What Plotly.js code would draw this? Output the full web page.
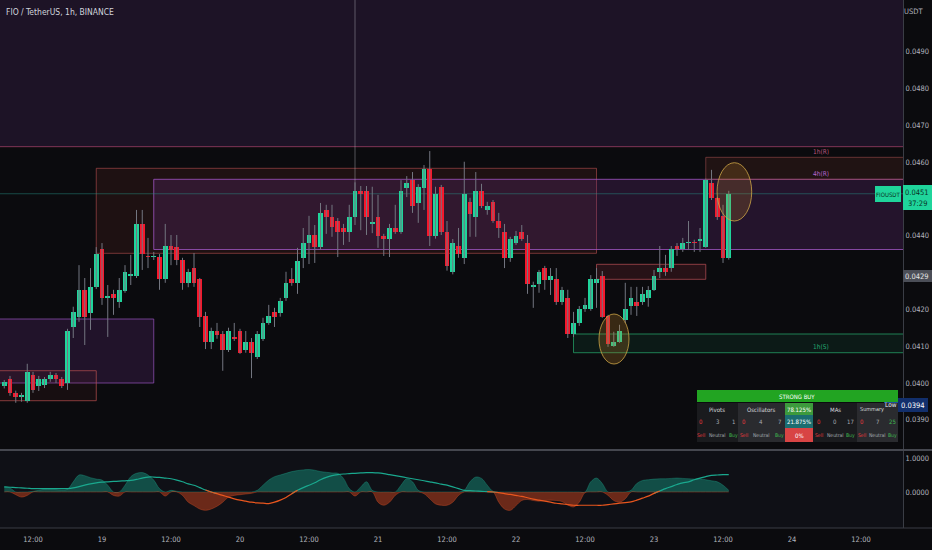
<!DOCTYPE html>
<html><head><meta charset="utf-8">
<script src="https://cdn.plot.ly/plotly-3.0.1.min.js"></script>
<style>html,body{margin:0;padding:0;background:#0b0b0e;}#chart{width:932px;height:550px;}</style>
</head><body><div id="chart"></div>
<script>
// ---------------- data ----------------
const startTime = Date.UTC(2023, 2, 18, 7, 0); // first candle, 1h bars
const opens = [
0.03992,0.04011,0.03973,0.03962,0.03951,0.04022,0.03992,0.03995,0.04011,0.04022,
0.04011,0.04000,0.04152,0.04179,0.04253,0.04190,0.04261,0.04364,0.04231,0.04242,
0.04220,0.04250,0.04291,0.04291,0.04432,0.04345,0.04342,0.04342,0.04282,0.04372,
0.04369,0.04334,0.04272,0.04312,0.04282,0.04182,0.04111,0.04141,0.04133,0.04090,
0.04122,0.04141,0.04090,0.04111,0.04071,0.04120,0.04163,0.04193,0.04190,0.04231,
0.04282,0.04272,0.04340,0.04380,0.04402,0.04370,0.04470,0.04451,0.04440,0.04421,
0.04410,0.04451,0.04522,0.04522,0.04432,0.04451,0.04399,0.04391,0.04421,0.04410,
0.04530,0.04551,0.04489,0.04530,0.04581,0.04399,0.04532,0.04410,0.04301,0.04372,
0.04340,0.04492,0.04450,0.04522,0.04470,0.04492,0.04440,0.04410,0.04340,0.04380,
0.04410,0.04380,0.04261,0.04269,0.04312,0.04280,0.04282,0.04220,0.04231,0.04133,
0.04163,0.04201,0.04201,0.04272,0.04291,0.04182,0.04101,0.04111,0.04171,0.04210,
0.04220,0.04220,0.04231,0.04253,0.04302,0.04313,0.04312,0.04372,0.04364,0.04380,
0.04383,0.04386,0.04370,0.04543,0.04502,0.04453,0.04340];
const highs = [
0.04008,0.04019,0.03979,0.03973,0.04052,0.04030,0.04019,0.04016,0.04030,0.04027,
0.04016,0.04147,0.04207,0.04320,0.04285,0.04312,0.04369,0.04380,0.04266,0.04253,
0.04285,0.04320,0.04348,0.04470,0.04470,0.04394,0.04356,0.04350,0.04432,0.04402,
0.04402,0.04340,0.04310,0.04353,0.04285,0.04193,0.04150,0.04163,0.04141,0.04150,
0.04163,0.04147,0.04141,0.04122,0.04141,0.04177,0.04212,0.04204,0.04231,0.04302,
0.04312,0.04367,0.04421,0.04454,0.04429,0.04489,0.04484,0.04484,0.04448,0.04432,
0.04484,0.04545,0.04535,0.04535,0.04533,0.04511,0.04405,0.04432,0.04484,0.04551,
0.04562,0.04573,0.04540,0.04592,0.04630,0.04533,0.04538,0.04440,0.04391,0.04421,
0.04601,0.04503,0.04573,0.04541,0.04492,0.04497,0.04462,0.04432,0.04397,0.04413,
0.04429,0.04402,0.04275,0.04307,0.04318,0.04312,0.04312,0.04261,0.04253,0.04193,
0.04209,0.04231,0.04293,0.04312,0.04304,0.04185,0.04139,0.04158,0.04272,0.04261,
0.04261,0.04261,0.04263,0.04307,0.04372,0.04348,0.04372,0.04380,0.04394,0.04440,
0.04389,0.04421,0.04555,0.04579,0.04505,0.04484,0.04522];
const lows = [
0.03985,0.03965,0.03946,0.03949,0.03946,0.03973,0.03978,0.03986,0.04003,0.04000,
0.03986,0.03981,0.04122,0.04166,0.04103,0.04144,0.04255,0.04212,0.04125,0.04185,
0.04204,0.04245,0.04266,0.04285,0.04307,0.04312,0.04334,0.04253,0.04272,0.04320,
0.04320,0.04253,0.04260,0.04261,0.04152,0.04092,0.04092,0.04120,0.04033,0.04084,
0.04114,0.04079,0.04082,0.04013,0.04065,0.04114,0.04158,0.04152,0.04180,0.04223,
0.04264,0.04242,0.04312,0.04323,0.04326,0.04362,0.04405,0.04397,0.04342,0.04375,
0.04383,0.04429,0.04415,0.04402,0.04407,0.04367,0.04345,0.04342,0.04405,0.04405,
0.04505,0.04462,0.04435,0.04470,0.04372,0.04392,0.04402,0.04305,0.04295,0.04340,
0.04323,0.04397,0.04397,0.04475,0.04457,0.04435,0.04394,0.04312,0.04329,0.04375,
0.04386,0.04242,0.04204,0.04245,0.04253,0.04239,0.04212,0.04212,0.04122,0.04125,
0.04155,0.04193,0.04196,0.04204,0.04177,0.04098,0.04098,0.04109,0.04163,0.04185,
0.04182,0.04212,0.04207,0.04250,0.04285,0.04291,0.04302,0.04345,0.04356,0.04361,
0.04356,0.04356,0.04367,0.04497,0.04443,0.04326,0.04335];
const closes = [
0.04003,0.03973,0.03962,0.03964,0.04030,0.03981,0.04011,0.04011,0.04022,0.04011,
0.03992,0.04141,0.04193,0.04253,0.04179,0.04261,0.04350,0.04231,0.04234,0.04231,
0.04253,0.04302,0.04293,0.04432,0.04350,0.04342,0.04345,0.04282,0.04372,0.04361,
0.04334,0.04272,0.04302,0.04272,0.04179,0.04111,0.04141,0.04130,0.04090,0.04141,
0.04120,0.04082,0.04111,0.04082,0.04133,0.04163,0.04182,0.04180,0.04223,0.04272,
0.04272,0.04331,0.04380,0.04402,0.04370,0.04462,0.04451,0.04424,0.04410,0.04410,
0.04451,0.04522,0.04514,0.04451,0.04435,0.04399,0.04391,0.04421,0.04410,0.04522,
0.04543,0.04481,0.04533,0.04581,0.04399,0.04514,0.04410,0.04318,0.04380,0.04350,
0.04514,0.04459,0.04522,0.04481,0.04481,0.04440,0.04421,0.04340,0.04391,0.04399,
0.04391,0.04269,0.04263,0.04302,0.04280,0.04291,0.04220,0.04253,0.04133,0.04163,
0.04201,0.04212,0.04282,0.04282,0.04179,0.04106,0.04111,0.04141,0.04201,0.04231,
0.04210,0.04242,0.04253,0.04291,0.04313,0.04302,0.04364,0.04364,0.04380,0.04383,
0.04380,0.04389,0.04551,0.04502,0.04451,0.04340,0.04514];
const wave = [
0.15,0.12,-0.08,-0.15,-0.1,0.02,0.05,0.08,0.08,0.07,
0.06,0.08,0.3,0.5,0.48,0.42,0.38,0.35,0.2,-0.1,
-0.12,0.2,0.45,0.55,0.57,0.5,0.35,0.1,-0.12,0.05,
0.02,-0.1,-0.3,-0.4,-0.5,-0.54,-0.5,-0.42,-0.3,-0.15,
-0.1,-0.08,-0.06,-0.04,0.05,0.2,0.35,0.45,0.5,0.55,
0.6,0.63,0.65,0.66,0.64,0.6,0.58,0.56,0.55,0.4,
0.1,-0.12,0.15,0.3,0.05,-0.3,-0.39,-0.3,-0.1,0.2,
0.39,0.3,0.05,-0.05,-0.2,-0.35,-0.39,-0.39,-0.3,-0.1,
0.05,0.3,0.44,0.4,0.2,0.02,-0.3,-0.5,-0.54,-0.4,
-0.25,-0.22,-0.25,-0.27,-0.25,-0.24,-0.25,-0.28,-0.38,-0.44,
-0.3,-0.02,0.3,0.41,0.25,-0.1,-0.25,-0.3,-0.2,0.05,
0.25,0.34,0.36,0.38,0.39,0.39,0.4,0.41,0.4,0.39,
0.38,0.39,0.36,0.33,0.3,0.2,0.05];
const signal = [
0.15,0.14,0.13,0.12,0.11,0.1,0.1,0.1,0.1,0.1,
0.1,0.1,0.12,0.16,0.2,0.24,0.27,0.29,0.3,0.31,
0.32,0.33,0.34,0.37,0.41,0.44,0.44,0.43,0.41,0.39,
0.35,0.3,0.24,0.2,0.13,0.06,0.0,-0.05,-0.1,-0.15,
-0.2,-0.24,-0.27,-0.3,-0.32,-0.33,-0.34,-0.3,-0.24,-0.16,
-0.05,0.05,0.13,0.2,0.27,0.36,0.43,0.48,0.51,0.53,
0.54,0.55,0.56,0.57,0.57,0.56,0.54,0.51,0.48,0.45,
0.42,0.39,0.36,0.33,0.3,0.27,0.23,0.2,0.15,0.1,
0.05,0.04,0.03,0.02,0.01,0.0,-0.02,-0.05,-0.07,-0.1,
-0.13,-0.17,-0.21,-0.24,-0.27,-0.3,-0.33,-0.35,-0.37,-0.39,
-0.39,-0.39,-0.39,-0.39,-0.39,-0.37,-0.35,-0.33,-0.31,-0.29,
-0.24,-0.18,-0.12,-0.04,0.03,0.1,0.16,0.22,0.27,0.3,
0.36,0.41,0.45,0.49,0.5,0.51,0.51];
const xTickVals = ['2023-03-18 12:00','2023-03-19 00:00','2023-03-19 12:00','2023-03-20 00:00','2023-03-20 12:00',
  '2023-03-21 00:00','2023-03-21 12:00','2023-03-22 00:00','2023-03-22 12:00','2023-03-23 00:00',
  '2023-03-23 12:00','2023-03-24 00:00','2023-03-24 12:00'];
const xTickText = ['12:00','19','12:00','20','12:00','21','12:00','22','12:00','23','12:00','24','12:00'];
const priceTicks = [0.039,0.040,0.041,0.042,0.044,0.046,0.047,0.048,0.049];
const oscTicks = [0, 1];
const lowValue = 0.0394;
const crossPrice = 0.0429;
const countdown = '37:29';
const symbolName = 'FIOUSDT';
const chartTitle = 'FIO / TetherUS, 1h, BINANCE';
const rating = 'STRONG BUY';
const tableGroups = ['Pivots','Oscillators','MAs','Summary'];
const tableCounts = [[0,3,1],[0,4,7],[0,0,17],[0,7,25]];
const countLabels = ['Sell','Neutral','Buy'];
const oscPercents = ['78.125%','21.875%','0%'];

// ---------------- helpers ----------------
const HOUR = 3600000;
function fmt(ms){ return new Date(ms).toISOString().slice(0,19).replace('T',' '); }
const times = opens.map((_, i) => fmt(startTime + i*HOUR));
const t19 = Date.UTC(2023,2,19,0,0);
const xRange = [fmt(t19 - 17.74*HOUR), fmt(t19 + 139.3*HOUR)];
const farLeft = fmt(t19 - 40*HOUR), farRight = fmt(t19 + 160*HOUR);
const W = 903, H = 528;
const px = x => x / W;
const py = y => (H - y) / H;
const lastClose = closes[closes.length-1];
const FONT = 'DejaVu Sans Condensed, Liberation Sans Narrow, Roboto, sans-serif';
const GREEN = '#1fd59b', RED = '#f5182c';

// ---------------- traces ----------------
const wx = [], wy = [];
times.forEach((t, i) => { wx.push(t, t, null); wy.push(lows[i], highs[i], null); });
const wicks = {type:'scatter', mode:'lines', x:wx, y:wy, xaxis:'x', yaxis:'y',
  line:{color:'#737680', width:1}, hoverinfo:'skip', showlegend:false};
const bodies = {type:'bar', x:times, xaxis:'x', yaxis:'y',
  base: opens.map((o, i) => Math.min(o, closes[i])),
  y: opens.map((o, i) => Math.max(Math.abs(closes[i]-o), 0.00004)),
  width: 0.8*HOUR,
  marker:{color: opens.map((o, i) => closes[i] >= o ? GREEN : RED), line:{width:0}},
  hoverinfo:'skip', showlegend:false};

const wavePos = wave.map(v => Math.max(v, 0));
const waveNeg = wave.map(v => Math.min(v, 0));
const n = signal.length;
const sigPos = signal.map((v, i) => (v >= 0 || (i>0 && signal[i-1] >= 0) || (i<n-1 && signal[i+1] >= 0)) ? v : null);
const sigNeg = signal.map((v, i) => (v <= 0 || (i>0 && signal[i-1] <= 0) || (i<n-1 && signal[i+1] <= 0)) ? v : null);
const oscTraces = [
  {type:'scatter', mode:'lines', x:times, y:wavePos, yaxis:'y2', fill:'tozeroy',
   fillcolor:'rgba(22,140,120,0.5)', line:{color:'rgba(30,165,140,0.6)', width:0.6, shape:'spline'}, hoverinfo:'skip', showlegend:false},
  {type:'scatter', mode:'lines', x:times, y:waveNeg, yaxis:'y2', fill:'tozeroy',
   fillcolor:'rgba(200,65,28,0.5)', line:{color:'rgba(225,85,40,0.6)', width:0.6, shape:'spline'}, hoverinfo:'skip', showlegend:false},
  {type:'scatter', mode:'lines', x:times, y:sigPos, yaxis:'y2', connectgaps:false,
   line:{color:'#1aa88e', width:1.2, shape:'spline'}, hoverinfo:'skip', showlegend:false},
  {type:'scatter', mode:'lines', x:times, y:sigNeg, yaxis:'y2', connectgaps:false,
   line:{color:'#e8561e', width:1.2, shape:'spline'}, hoverinfo:'skip', showlegend:false}
];

// ---------------- shapes ----------------
const lvl = y => 0.050405 - y/36800; // pixel row -> price, for zone borders
const shapes = [];
function zone(x0, x1, y0, y1, fill, line){
  shapes.push({type:'rect', xref:'x', yref:'y', x0, x1, y0, y1, fillcolor:fill,
    line:{color:line, width:1}, layer:'below'});
}
// oscillator pane background
shapes.push({type:'rect', xref:'paper', yref:'paper', x0:0, x1:1, y0:0, y1:py(451), fillcolor:'#0f1016', line:{width:0}, layer:'below'});
// top band
zone(farLeft, farRight, lvl(147), 0.0506, 'rgba(60,34,78,0.38)', 'rgba(0,0,0,0)');
// boxes
zone(times[16], times[103], lvl(253.3), lvl(168.3), 'rgba(115,45,40,0.18)', 'rgba(185,80,80,0.6)');
zone(times[26], farRight, lvl(249.5), lvl(179.3), 'rgba(95,42,115,0.30)', 'rgba(160,85,195,0.8)');
zone(farLeft, times[26], lvl(383), lvl(319), 'rgba(95,42,115,0.28)', 'rgba(145,80,180,0.75)');
zone(farLeft, times[16], lvl(400.7), lvl(370.7), 'rgba(115,40,40,0.12)', 'rgba(185,80,80,0.7)');
zone(times[122], farRight, lvl(179.3), lvl(157.3), 'rgba(110,50,40,0.22)', 'rgba(165,80,80,0.55)');
zone(times[103], times[122], lvl(279.3), lvl(264.3), 'rgba(115,40,45,0.28)', 'rgba(185,80,85,0.7)');
zone(times[99], farRight, lvl(352.7), lvl(334), 'rgba(25,140,90,0.12)', 'rgba(35,155,100,0.8)');
// 1h(R) line
shapes.push({type:'line', xref:'x', yref:'y', x0:farLeft, x1:farRight, y0:lvl(146.7), y1:lvl(146.7),
  line:{color:'rgba(185,70,110,0.65)', width:1}, layer:'below'});
// current price line
shapes.push({type:'line', xref:'x', yref:'y', x0:farLeft, x1:farRight, y0:lastClose, y1:lastClose,
  line:{color:'rgba(40,150,140,0.45)', width:1}, layer:'below'});
// crosshair vertical
shapes.push({type:'line', xref:'x', yref:'y', x0:times[61], x1:times[61], y0:closes[61], y1:0.0506,
  line:{color:'rgba(175,175,185,0.45)', width:1}, layer:'below'});
// ellipses
shapes.push({type:'circle', xref:'x', yref:'y', x0:fmt(t19+86.43*HOUR), x1:fmt(t19+91.65*HOUR),
  y0:lvl(364), y1:lvl(314), fillcolor:'rgba(190,130,40,0.25)', line:{color:'rgba(205,165,70,0.8)', width:1}});
shapes.push({type:'circle', xref:'x', yref:'y', x0:fmt(t19+106.96*HOUR), x1:fmt(t19+112.99*HOUR),
  y0:lvl(221), y1:lvl(162.7), fillcolor:'rgba(190,130,40,0.22)', line:{color:'rgba(205,165,70,0.8)', width:1}});
// pane separators
shapes.push({type:'line', xref:'paper', yref:'paper', x0:0, x1:932/W, y0:py(450), y1:py(450), line:{color:'#45474f', width:2}});
shapes.push({type:'line', xref:'paper', yref:'paper', x0:0, x1:932/W, y0:0, y1:0, line:{color:'#3a3c44', width:1}});

// ---------------- annotations ----------------
const ann = [];
function txt(text, x, y, color, size, opts){
  ann.push(Object.assign({text, xref:'paper', yref:'paper', x:px(x), y:py(y), showarrow:false,
    xanchor:'center', yanchor:'middle', font:{family:FONT, size, color}}, opts||{}));
}
function box(x0, x1, y0, y1, fill){
  shapes.push({type:'rect', xref:'paper', yref:'paper', x0:px(x0), x1:px(x1), y0:py(y1), y1:py(y0), fillcolor:fill, line:{width:0}});
}
txt(chartTitle, 4, 12, '#d1d4dc', 8.5, {xanchor:'left'});
txt('USDT', 914, 11, '#b2b5be', 7.5);
txt('1h(R)', 821, 152, 'rgba(205,95,140,0.9)', 6.5);
txt('4h(R)', 821, 174, '#b565d0', 6.5);
txt('1h(S)', 821, 347, '#22a872', 6.5);
// price labels on the axis
box(903, 932, 185, 210, GREEN);
txt(lastClose.toFixed(4), 917.5, 192, '#0a3226', 7.5);
txt(countdown, 917.5, 203, '#0a3226', 7.5);
box(875, 901, 186, 202, GREEN);
txt(symbolName, 888, 194, '#0a3226', 6);
box(903, 932, 270, 282, '#4b4e57');
txt(crossPrice.toFixed(4), 917.5, 276, '#e6e6e6', 7.5);
box(884, 898, 398, 412, '#1f4d9e');
txt('Low', 891, 405, '#e8ecf5', 6.5);
box(898, 928, 398, 412, '#122f6c');
txt(lowValue.toFixed(4), 913, 405, '#ffffff', 7.5);

// technical ratings table
box(697, 898, 390, 402, '#22a422');
txt(rating, 797, 396, '#ffffff', 6);
const groupX = [[697,738],[738,785],[813,857],[857,898]];
const groupFill = ['#1a1b1e','#2a2b2f','#1a1b1e','#2a2b2f'];
const colX = [[701,717,733],[744,761,779],[819,835,850],[862,877,892]];
const headX = [717, 761, 835, 872];
const countColor = ['#e8383d','#a8abb3','#a8abb3'];
const labelColor = ['#e8383d','#a8abb3','#3fb950'];
tableGroups.forEach((g, k) => {
  box(groupX[k][0], groupX[k][1], 403, 442, groupFill[k]);
  txt(g, headX[k], 409, '#d8d9dc', k === 3 ? 5.5 : 6);
  tableCounts[k].forEach((c, j) => {
    const col = (k === 3 && j === 2) ? '#3fb950' : countColor[j];
    txt(String(c), colX[k][j], 421.5, col, 6);
    txt(countLabels[j], colX[k][j], 435, labelColor[j], 5);
  });
});
const pctFill = ['#3c9a3c','#1b6d70','#d84444'];
const pctY = [[403,415],[415,428],[428,442]];
oscPercents.forEach((p, j) => {
  box(785, 813, pctY[j][0], pctY[j][1], pctFill[j]);
  txt(p, 799, (pctY[j][0]+pctY[j][1])/2, '#ffffff', 6);
});

// ---------------- layout ----------------
const axisFont = {family:FONT, size:7.5, color:'#b2b5be'};
const layout = {
  width:932, height:550,
  margin:{l:0, r:29, t:0, b:22, pad:0},
  paper_bgcolor:'#0b0b0e', plot_bgcolor:'#0b0b0e',
  showlegend:false, barmode:'overlay', bargap:0,
  xaxis:{type:'date', range:xRange, anchor:'y2', tickvals:xTickVals, ticktext:xTickText,
    showgrid:false, zeroline:false, showline:false, ticks:'', ticklabelstandoff:5, tickfont:axisFont, fixedrange:true},
  yaxis:{domain:[(H-450)/H, 1], range:[0.038177, 0.050405], side:'right', anchor:'x',
    tickvals:priceTicks, tickformat:'.4f', showgrid:false, zeroline:false, showline:true,
    linecolor:'#3a3d45', linewidth:1, ticks:'', tickfont:axisFont, fixedrange:true},
  yaxis2:{domain:[0, (H-451)/H], range:[-1.059, 1.206], side:'right', anchor:'x',
    tickvals:oscTicks, tickformat:'.4f', showgrid:false, zeroline:false, showline:true,
    linecolor:'#3a3d45', linewidth:1, ticks:'', tickfont:axisFont, fixedrange:true},
  shapes, annotations:ann
};
Plotly.newPlot('chart', [...oscTraces, wicks, bodies], layout, {displayModeBar:false, staticPlot:true});
</script>
</body></html>
